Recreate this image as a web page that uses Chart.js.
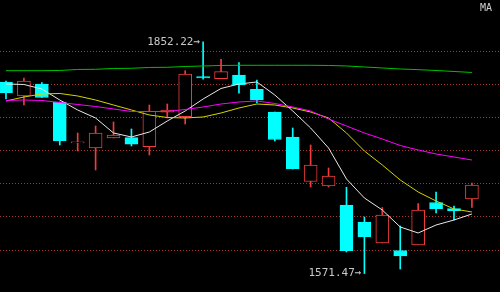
<!DOCTYPE html>
<html>
<head>
<meta charset="utf-8">
<script src="https://cdn.jsdelivr.net/npm/chart.js@4/dist/chart.umd.min.js"></script>
<style>
html,body{margin:0;padding:0;background:#000;}
canvas{display:block;}
</style>
</head>
<body>
<canvas id="c" width="500" height="292"></canvas>
<script>
// Candle data, one entry per trading day
const opens  = [1803.64,1786.67,1801.21,1779.39,1729.70,1723.64,1735.76,1736.12,1725.21,1766.91,1761.58,1810.06,1807.64,1812.12,1794.79,1767.27,1736.97,1683.03,1677.58,1654.55,1633.94,1608.48,1599.39,1606.06,1657.58,1650.30,1661.82];
const closes = [1790.30,1804.85,1784.85,1732.12,1731.20,1741.82,1739.39,1728.12,1768.48,1769.70,1813.33,1808.55,1816.12,1800.00,1781.82,1733.94,1698.18,1703.03,1689.70,1598.79,1615.76,1642.42,1592.73,1648.48,1649.70,1647.27,1678.79];
const highs  = [1804.85,1808.48,1803.03,1779.39,1741.82,1750.30,1755.15,1746.67,1775.76,1776.97,1817.33,1852.22,1831.15,1827.03,1806.06,1767.27,1747.88,1727.27,1699.39,1676.00,1640.00,1651.52,1629.09,1656.36,1670.30,1653.33,1681.21];
const lows   = [1783.03,1775.76,1784.85,1727.27,1720.00,1696.97,1735.76,1726.06,1715.15,1760.00,1752.73,1806.91,1807.64,1789.94,1778.55,1732.12,1698.18,1676.36,1676.36,1597.58,1571.47,1608.48,1576.97,1606.06,1644.85,1636.36,1651.52];

// Moving averages
const ma5  = [1801.21,1800.61,1795.15,1781.82,1769.70,1760.00,1741.82,1736.97,1743.03,1756.36,1768.48,1783.03,1795.76,1801.21,1803.64,1787.88,1768.48,1747.88,1723.64,1686.06,1663.03,1648.48,1627.88,1620.61,1630.30,1636.36,1643.64];
const ma10 = [1780.61,1785.45,1789.09,1789.70,1786.67,1781.82,1775.76,1769.70,1763.64,1760.61,1760.00,1761.21,1766.06,1772.12,1776.97,1775.76,1772.12,1767.27,1760.00,1741.82,1720.00,1703.03,1684.85,1670.30,1659.39,1649.70,1646.06];
const ma20 = [1781.21,1781.82,1781.21,1778.79,1776.36,1773.94,1770.91,1767.88,1767.88,1767.88,1770.30,1773.33,1776.97,1779.39,1780.61,1777.58,1773.33,1768.48,1758.79,1750.30,1741.82,1734.55,1726.67,1721.21,1716.36,1712.73,1709.09];
const ma60 = [1817.33,1817.33,1817.33,1817.58,1818.79,1819.03,1820.00,1820.24,1821.21,1821.45,1822.42,1823.03,1823.64,1823.88,1823.88,1823.88,1823.88,1823.88,1823.64,1823.03,1821.82,1820.61,1819.39,1818.55,1817.58,1816.36,1815.15];

// Horizontal grid levels
const gridTicks = [1600,1640,1680,1720,1760,1800,1840];

// Extreme labels
const markIndex = [11, 20];
const markValue = [1852.22, 1571.47];
const legendText = 'MA';

const UP = '#f03c3c';
const DOWN = '#00ffff';
const isUp = i => closes[i] >= opens[i];

const idx = opens.map((_, i) => i);
const wickData = idx.map(i => ({x: i, y: [lows[i], highs[i]]}));
const bodyData = idx.map(i => ({x: i, y: [opens[i], closes[i]]}));
const lineData = arr => arr.map((v, i) => ({x: i, y: v}));

const bgPlugin = {
  id: 'bg',
  beforeDraw(chart) {
    const c = chart.ctx;
    c.save();
    c.fillStyle = '#000';
    c.fillRect(0, 0, chart.width, chart.height);
    c.restore();
  }
};

const textPlugin = {
  id: 'texts',
  afterDatasetsDraw(chart) {
    const c = chart.ctx;
    const xs = chart.scales.x, ys = chart.scales.y;
    c.save();
    c.font = '11px "DejaVu Sans Mono"';
    c.fillStyle = '#c8c8c8';
    c.textAlign = 'right';
    c.textBaseline = 'middle';
    markIndex.forEach((k, j) => {
      const px = xs.getPixelForValue(k) - 3;
      const py = ys.getPixelForValue(markValue[j]);
      c.fillText(markValue[j].toFixed(2) + '\u2192', px, py);
    });
    c.font = '10px "DejaVu Sans Mono"';
    c.textAlign = 'left';
    c.fillStyle = '#d0d0d0';
    c.fillText(legendText, 480, 8);
    c.restore();
  }
};

const lineDs = (arr, color) => ({
  type: 'line',
  data: lineData(arr),
  borderColor: color,
  borderWidth: 1,
  pointRadius: 0,
  tension: 0,
  fill: false,
  order: 0
});

new Chart(document.getElementById('c'), {
  type: 'bar',
  data: {
    datasets: [
      {
        data: wickData,
        barThickness: 1,
        grouped: false,
        backgroundColor: ctx => isUp(ctx.dataIndex) ? UP : DOWN,
        borderWidth: 0,
        order: 3
      },
      {
        data: bodyData,
        barThickness: 13,
        grouped: false,
        backgroundColor: ctx => isUp(ctx.dataIndex) ? '#000000' : DOWN,
        borderColor: ctx => isUp(ctx.dataIndex) ? UP : DOWN,
        borderWidth: 1,
        borderSkipped: false,
        order: 2
      },
      lineDs(ma60, '#00c000'),
      lineDs(ma20, '#ff00ff'),
      lineDs(ma10, '#d4d400'),
      lineDs(ma5, '#e8e8e8')
    ]
  },
  options: {
    responsive: false,
    animation: false,
    layout: {padding: 0},
    plugins: {legend: {display: false}, tooltip: {enabled: false}},
    scales: {
      x: {
        type: 'linear',
        display: false,
        min: -0.3348,
        max: 27.567,
        offset: false
      },
      y: {
        type: 'linear',
        min: 1549.1,
        max: 1903.0,
        display: true,
        border: {display: false, dash: [1, 2]},
        ticks: {display: false},
        afterBuildTicks: s => { s.ticks = gridTicks.map(v => ({value: v})); },
        afterFit: s => { s.width = 0; },
        grid: {
          color: '#b03434',
          lineWidth: 1,
          drawTicks: false
        }
      }
    }
  },
  plugins: [bgPlugin, textPlugin]
});
</script>
</body>
</html>
